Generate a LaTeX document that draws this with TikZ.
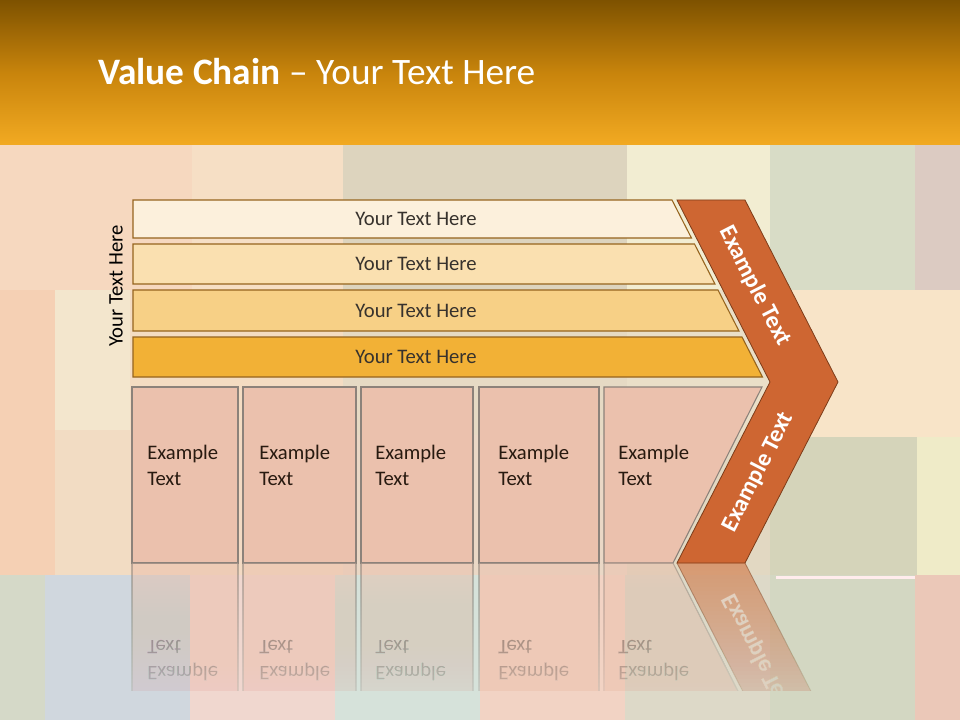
\documentclass[tikz,border=0pt]{standalone}
\usepackage{fontspec}
\setmainfont{Carlito}

\definecolor{headtop}{RGB}{126,82,0}
\definecolor{headmid}{RGB}{200,132,12}
\definecolor{headbot}{RGB}{242,170,34}
\definecolor{barA}{RGB}{252,240,220}
\definecolor{barB}{RGB}{250,224,176}
\definecolor{barC}{RGB}{247,208,134}
\definecolor{barD}{RGB}{242,177,54}
\definecolor{barrim}{RGB}{150,100,30}
\definecolor{boxfill}{RGB}{235,193,173}
\definecolor{boxrim}{RGB}{140,130,122}
\definecolor{chevfill}{RGB}{206,102,50}
\definecolor{chevrim}{RGB}{125,60,25}
\definecolor{inkgray}{RGB}{55,50,45}
\definecolor{inkbrown}{RGB}{40,26,16}

% background mosaic tiles (they do not overlap)
\newcommand{\bgtiles}{%
  \foreach \xa/\ya/\xb/\yb/\c in {
      0/145/192/290/F6D8BF, 192/145/343/290/F6DFC5, 343/145/627/290/DDD4BE,
      627/145/770/290/F2EDD2, 770/145/915/290/D8DCC6, 915/145/960/290/DCCBC2,
      0/290/55/575/F5D0B4, 55/290/130/430/F3E6CD, 130/290/343/435/F4DCC2,
      343/290/627/435/E6DAC4, 627/290/770/435/EADFC8, 770/290/960/437/F8E4C8,
      55/430/130/575/F2DCC3, 130/435/343/575/F3DAC3, 343/435/627/575/EAD8C6,
      627/435/770/575/E2D8C2, 770/437/917/575/D5D4BA, 917/437/960/575/EFEBC8,
      0/575/45/720/D5D9C8, 45/575/190/720/D0D7DE, 190/575/335/720/F0D7CF,
      335/575/480/720/D6E2DA, 480/575/625/720/F2D3C4, 625/575/770/720/DDD9C8,
      770/575/915/720/D3D7C2, 915/575/960/720/EBC8B8} {
    \definecolor{tilec}{HTML}{\c}
    \fill[tilec] (\xa,\ya) rectangle (\xb,\yb);
  }
}

% boxes and chevron, drawn once as they are and once mirrored
\newcommand{\lowerrow}{%
  \foreach \x/\w/\tx [count=\i] in {132/106/147, 243/113/259, 361/112/375, 479/120/498} {
    \draw[lowbox] (\x,387) rectangle ++(\w,176);
    \node[boxtext] (box\i) at (\tx,465) {Example\\Text};
  }
  \draw[lowbox] (604,387) -- (762,387) -- (673,563) -- (604,563) -- cycle;
  \node[boxtext] (box5) at (618,465) {Example\\Text};
  \draw[chevron] (677,200) -- (745,200) -- (838,382) -- (745,563) -- (677,563) -- (770,382) -- cycle;
  \node[chevtext, rotate=-62.9] (chevup) at (755,286) {Example Text};
  \node[chevtext, rotate=62.9] (chevdown) at (758,472) {Example Text};
}

\begin{document}
\begin{tikzpicture}[
    x=0.75pt, y=-0.75pt,
    bar/.style={draw=barrim, line width=0.8pt},
    bartext/.style={text=inkgray, font=\fontsize{15.5}{18}\selectfont, inner sep=0pt},
    lowbox/.style={draw=boxrim, fill=boxfill, line width=0.8pt},
    boxtext/.style={anchor=west, align=left, text=inkbrown, inner sep=0pt,
      font=\fontsize{15.5}{19.5}\selectfont},
    chevron/.style={draw=chevrim, fill=chevfill, line width=0.6pt},
    chevtext/.style={text=white, font=\bfseries\fontsize{18}{20}\selectfont, inner sep=0pt},
    mirror/.style={shift={(0,1126)}, yscale=-1, transform shape}
  ]
  \useasboundingbox (0,0) rectangle (960,720);

  \fill[barA!60!boxfill] (0,145) rectangle (960,720);
  \bgtiles

  % header band
  \shade[top color=headtop, bottom color=headbot, middle color=headmid] (0,0) rectangle (960,145);
  \node[anchor=base west, text=white, inner sep=0pt, font=\fontsize{28}{34}\selectfont]
    (title) at (98,85) {\textbf{Value Chain} – Your Text Here};

  % slanted bars
  \foreach \yt/\yb/\col [count=\i] in {200/238/barA, 244/284/barB, 290/331/barC, 337/377/barD} {
    \draw[bar, fill=\col] (133,\yt) -- ({672+(\yt-200)*0.511},\yt)
      -- ({672+(\yb-200)*0.511},\yb) -- (133,\yb) -- cycle;
    \node[bartext] (bar\i) at (416,{(\yt+\yb)/2}) {Your Text Here};
  }
  \node[bartext, text=black, rotate=90] (side) at (116,286) {Your Text Here};

  \lowerrow

  % reflection: mirrored copy, then the mosaic laid back over it, thicker downwards
  \begin{scope}
    \clip (0,563) rectangle (960,690);
    \begin{scope}[mirror, opacity=0.55]
      \lowerrow
    \end{scope}
    \foreach \k [evaluate=\k as \a using {1-(1-0.72*(\k+1)/32)/(1-0.72*\k/32)}] in {0,...,31} {
      \begin{scope}
        \clip (0,{563+4*\k}) rectangle (960,690);
        \begin{scope}[opacity=\a]
          \bgtiles
        \end{scope}
      \end{scope}
    }
  \end{scope}
  \fill[white!70!pink] (776,576) rectangle (915,579);
\end{tikzpicture}
\end{document}
